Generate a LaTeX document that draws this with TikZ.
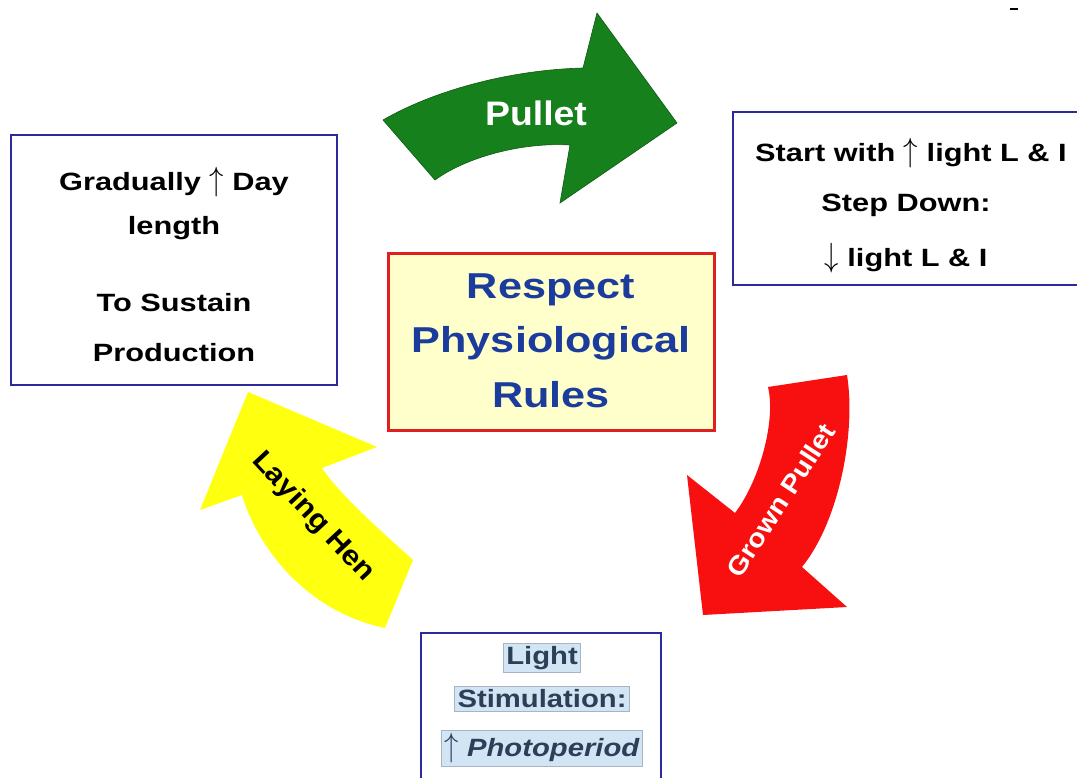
\documentclass[tikz,border=0pt]{standalone}
\usepackage{fontspec}
\usepackage{graphicx}
\setmainfont{Liberation Sans}
\newfontfamily\boxfont[FakeStretch=1.23]{Liberation Sans}
\newfontfamily\titlefont[FakeStretch=1.2]{Liberation Sans}
\newfontfamily\arrowfont[FakeStretch=1.1]{Liberation Sans}
\newfontfamily\lowfont[FakeStretch=1.17]{Liberation Sans}
\newcommand{\tallup}{\scalebox{1.15}[1.35]{$\uparrow$}}
\newcommand{\talldown}{\scalebox{1.15}[1.35]{$\downarrow$}}
\definecolor{boxblue}{HTML}{2A2A9A}
\definecolor{boxred}{HTML}{E02020}
\definecolor{paleyellow}{HTML}{FFFFCC}
\definecolor{titleblue}{HTML}{1B3C9C}
\definecolor{agreen}{HTML}{16801C}
\definecolor{agreendark}{HTML}{0E5A12}
\definecolor{ared}{HTML}{F81010}
\definecolor{ayellow}{HTML}{FFFF10}
\definecolor{hlblue}{HTML}{D2E5F5}
\definecolor{hlborder}{HTML}{A8B4C4}
\definecolor{slate}{HTML}{2B3F57}
\tikzset{
  infobox/.style={draw=boxblue, line width=2.5pt, fill=white},
  txt/.style={font=\boxfont\fontsize{25}{28}\selectfont\bfseries, text=black, inner sep=0pt, anchor=center},
  title/.style={font=\titlefont\fontsize{36}{40}\selectfont\bfseries, text=titleblue, inner sep=0pt},
  hl/.style={font=\lowfont\fontsize{25}{28}\selectfont\bfseries, text=slate, fill=hlblue, draw=hlborder, line width=0.8pt, inner xsep=3pt, inner ysep=3pt},
  arrowlabel/.style={inner sep=0pt}
}
\begin{document}
\begin{tikzpicture}[x=1pt,y=-1pt]
\useasboundingbox (0,0) rectangle (1077,778);
\fill[white] (0,0) rectangle (1077,778);

% boxes
\draw[infobox] (11,135) rectangle (337,385);
\draw[infobox] (733,112) rectangle (1095,285);
\draw[draw=boxred, line width=3pt, fill=paleyellow] (388,254) rectangle (714,430);
\draw[infobox] (421,633) rectangle (661,800);

% left box text
\node[txt] (l1) at (174,182) {Gradually \tallup{} Day};
\node[txt] (l2) at (174,228) {length};
\node[txt] (l3) at (174,303) {To Sustain};
\node[txt] (l4) at (174,353) {Production};

% right box text
\node[txt] (r1) at (911,153) {Start with \tallup{} light L \& I};
\node[txt] (r2) at (906,205) {Step Down:};
\node[txt] (r3) at (906,258) {\talldown{} light L \& I};

% centre text
\node[title] (c1) at (551,290) {Respect};
\node[title] (c2) at (551,343) {Physiological};
\node[title] (c3) at (551,395) {Rules};

% bottom box text
\node[hl] (b1) at (542,658) {Light};
\node[hl] (b2) at (542,699) {Stimulation:};
\node[hl] (b3) at (542,748) {\tallup{} \itshape Photoperiod};

% green arrow
\filldraw[fill=agreen, draw=agreendark, line width=0.6pt]
  (383,120) .. controls (435,90) and (510,70) .. (583,68)
  -- (597,13) -- (677,123) -- (560,203) -- (570,145)
  .. controls (520,142) and (465,158) .. (435,180) -- cycle;
\node[arrowlabel, text=white, font=\arrowfont\fontsize{34}{38}\selectfont\bfseries] (pullet) at (536,113) {Pullet};

% red arrow
\fill[ared]
  (768,387) .. controls (776,420) and (760,480) .. (735,513)
  -- (687,475) -- (703,615) -- (847,607) -- (802,567)
  .. controls (840,520) and (856,430) .. (847,375) -- cycle;
\node[arrowlabel, text=white, rotate=57, font=\arrowfont\fontsize{26}{30}\selectfont\bfseries] (grown) at (781,500) {Grown Pullet};

% yellow arrow
\fill[ayellow]
  (413,560) .. controls (380,530) and (340,495) .. (322,468)
  -- (377,447) -- (248,392) -- (200,510) -- (242,495)
  .. controls (255,540) and (300,610) .. (385,628) -- cycle;
\node[arrowlabel, text=black, rotate=-47, font=\arrowfont\fontsize{28}{32}\selectfont\bfseries] (hen) at (313,517) {Laying Hen};

% small mark top right
\coordinate (m1) at (1010,9);
\coordinate (m2) at (1018,9);
\draw[line width=2pt] (m1) -- (m2);
\end{tikzpicture}
\end{document}
